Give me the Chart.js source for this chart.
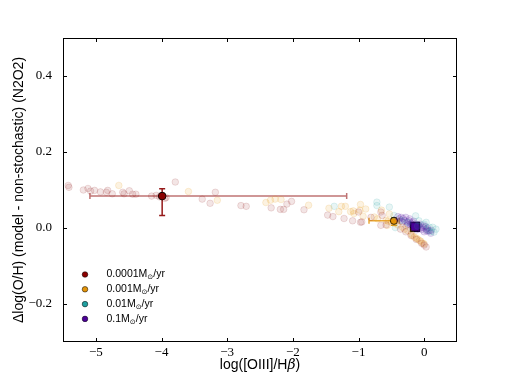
<!DOCTYPE html>
<html>
<head>
<meta charset="utf-8">
<script src="https://cdn.jsdelivr.net/npm/chart.js@4/dist/chart.umd.min.js"></script>
<style>
  html, body { margin: 0; padding: 0; background: #fff; }
</style>
</head>
<body>
<canvas id="chartCanvas" width="507" height="380"></canvas>
<script>
// series labels and colours
const rateLabels = ['0.0001', '0.001', '0.01', '0.1'];
const rateColors = ['139, 0, 0', '227, 148, 9', '32, 160, 160', '77, 0, 153'];

// axis ticks
const xTicks = [-5, -4, -3, -2, -1, 0];
const yTicks = [-0.2, 0.0, 0.2, 0.4];

// individual (faint) model points, one pair of arrays per rate
const redX = [-5.42, -5.41, -5.19, -5.12, -5.08, -5.02, -4.93, -4.84, -4.82, -4.75, -4.59, -4.57, -4.49, -4.44, -4.39,
              -4.15, -4.08, -4.03, -3.95, -3.93, -3.79, -3.38, -3.26, -3.18, -2.79, -2.71, -2.33, -2.19, -2.14, -2.09,
              -2.02, -1.83, -1.47, -1.39, -1.22, -1.09, -0.97, -1.00, -0.95, -0.66, -0.64, -0.81, -0.66, -0.58,
              -0.36, -0.28, -0.20, -0.12, -0.04, 0.00, 0.03];
const redY = [0.112, 0.107, 0.100, 0.104, 0.097, 0.099, 0.095, 0.094, 0.099, 0.090, 0.094, 0.090, 0.098, 0.089, 0.089,
              0.084, 0.086, 0.082, 0.078, 0.080, 0.121, 0.076, 0.065, 0.094, 0.059, 0.057, 0.053, 0.049, 0.049, 0.063,
              0.070, 0.048, 0.034, 0.030, 0.025, 0.019, 0.015, 0.042, 0.016, 0.042, 0.033, 0.028, 0.007, 0.008,
              -0.003, -0.010, -0.020, -0.030, -0.040, -0.045, -0.050];

const orangeX = [-4.65, -3.59, -3.15, -2.41, -2.34, -2.27, -2.18, -1.76, -1.45, -1.26, -1.20, -0.97, -0.89, -0.65,
                 -1.30, -1.12, -1.07, -1.08, -0.93, -0.76, -0.71, -0.58, -0.56, -0.53, -0.98,
                 -0.55, -0.50, -0.45, -0.40, -0.33, -0.30, -0.25, -0.20, -0.18, -0.15, -0.12, -0.10, -0.07, -0.05,
                 -0.02, 0.00];
const orangeY = [0.112, 0.096, 0.073, 0.067, 0.073, 0.076, 0.075, 0.060, 0.052, 0.057, 0.057, 0.062, 0.050, 0.047,
                 0.043, 0.043, 0.038, 0.045, 0.031, 0.029, 0.024, 0.020, 0.007, 0.037, 0.047,
                 0.018, 0.015, 0.012, 0.008, 0.002, -0.003, -0.007, -0.016, -0.020, -0.024, -0.027, -0.029, -0.033, -0.035,
                 -0.040, -0.042];

const tealX = [-1.37, -0.72, -0.72, -0.53, -0.46, -0.44, -0.35, -0.25, -0.13, -0.10, -0.08, 0.00, 0.03, 0.05, 0.08,
               0.10, 0.13, 0.15, 0.18];
const tealY = [0.057, 0.068, 0.059, 0.055, 0.033, 0.001, 0.020, 0.015, 0.032, 0.005, 0.019, 0.010, 0.015, -0.005, 0.002,
               -0.010, 0.002, -0.011, -0.003];

const purpleX = [-0.40, -0.38, -0.37, -0.35, -0.33, -0.32, -0.30, -0.28, -0.27, -0.26, -0.25, -0.23, -0.22, -0.21,
                 -0.20, -0.18, -0.17, -0.16, -0.15, -0.13, -0.12, -0.12, -0.10, -0.09, -0.08, -0.06, -0.05, -0.04,
                 -0.02, -0.01, 0.00, 0.02, 0.03, 0.04, 0.05, 0.06, 0.08, 0.10, 0.11];
const purpleY = [0.030, 0.024, 0.018, 0.028, 0.016, 0.025, 0.020, 0.028, 0.006, 0.016, 0.010, 0.019, 0.024, 0.008,
                 0.012, 0.015, 0.008, 0.018, 0.000, 0.010, 0.006, -0.005, -0.002, 0.008, 0.006, 0.010, 0.000, -0.004,
                 0.002, 0.006, -0.010, 0.004, -0.003, -0.008, 0.000, -0.008, -0.007, -0.014, -0.006];

// mean values with their error bars
const meanX = [-3.99, -0.46, -0.15, -0.14];
const meanY = [0.084, 0.019, 0.004, 0.003];
const xErrLow = [-5.09, -0.84, -0.20, -0.19];
const xErrHigh = [-1.18, -0.38, -0.10, -0.09];
const yErrLow = [0.033, 0.007, 0.000, -0.001];
const yErrHigh = [0.103, 0.027, 0.008, 0.007];

const rgba = (rgb, a) => `rgba(${rgb}, ${a})`;
const toPoints = (xs, ys) => xs.map((x, i) => ({ x: x, y: ys[i] }));
const minus = v => (v < 0 ? '\u2212' : '');

function faintSeries(label, xs, ys, rgb, alpha) {
    return {
        label: label,
        data: toPoints(xs, ys),
        backgroundColor: rgba(rgb, alpha),
        borderColor: rgba(rgb, alpha + 0.06),
        borderWidth: 0.8,
        pointRadius: 3.3,
    };
}

const meansIndex = 4;

// error bars, frame, inward ticks, legend and axis titles
const extrasPlugin = {
    id: 'extras',
    beforeDatasetDraw(chart, args) {
        if (args.index !== meansIndex) return;
        const { ctx, scales: { x, y } } = chart;
        ctx.save();
        meanX.forEach((mx, i) => {
            const px = x.getPixelForValue(mx);
            const py = y.getPixelForValue(meanY[i]);
            const x0 = x.getPixelForValue(xErrLow[i]);
            const x1 = x.getPixelForValue(xErrHigh[i]);
            const y0 = y.getPixelForValue(yErrLow[i]);
            const y1 = y.getPixelForValue(yErrHigh[i]);
            ctx.lineWidth = 1.5;
            ctx.strokeStyle = rgba(rateColors[i], i === 0 ? 0.55 : 0.8);
            ctx.beginPath();
            ctx.moveTo(x0, py); ctx.lineTo(x1, py);
            ctx.moveTo(x0, py - 3); ctx.lineTo(x0, py + 3);
            ctx.moveTo(x1, py - 3); ctx.lineTo(x1, py + 3);
            ctx.stroke();
            ctx.strokeStyle = rgba(rateColors[i], 0.9);
            ctx.beginPath();
            ctx.moveTo(px, y0); ctx.lineTo(px, y1);
            ctx.moveTo(px - 3, y0); ctx.lineTo(px + 3, y0);
            ctx.moveTo(px - 3, y1); ctx.lineTo(px + 3, y1);
            ctx.stroke();
        });
        ctx.restore();
    },
    afterDraw(chart) {
        const { ctx, chartArea: a, scales: { x, y } } = chart;
        ctx.save();
        // frame
        ctx.strokeStyle = '#000';
        ctx.lineWidth = 1;
        ctx.strokeRect(a.left + 0.5, a.top + 0.5, a.right - a.left - 1, a.bottom - a.top - 1);
        // inward ticks on all four sides
        ctx.beginPath();
        xTicks.forEach(v => {
            const px = Math.round(x.getPixelForValue(v)) + 0.5;
            ctx.moveTo(px, a.bottom); ctx.lineTo(px, a.bottom - 4);
            ctx.moveTo(px, a.top); ctx.lineTo(px, a.top + 4);
        });
        yTicks.forEach(v => {
            const py = Math.round(y.getPixelForValue(v)) + 0.5;
            ctx.moveTo(a.left, py); ctx.lineTo(a.left + 4, py);
            ctx.moveTo(a.right, py); ctx.lineTo(a.right - 4, py);
        });
        ctx.stroke();

        // legend
        ctx.textBaseline = 'middle';
        ctx.textAlign = 'left';
        rateLabels.forEach((lab, i) => {
            const ly = 274.5 + i * 14.8;
            ctx.beginPath();
            ctx.arc(85, ly, 2.8, 0, Math.PI * 2);
            ctx.fillStyle = rgba(rateColors[i], 1);
            ctx.fill();
            ctx.lineWidth = 0.5;
            ctx.strokeStyle = '#000';
            ctx.stroke();
            ctx.fillStyle = '#000';
            ctx.font = '10.5px "Liberation Sans"';
            let tx = 106.5;
            const main = lab + 'M';
            ctx.fillText(main, tx, ly);
            tx += ctx.measureText(main).width;
            ctx.font = '7px "DejaVu Sans"';
            ctx.fillText('\u2299', tx, ly + 3);
            tx += ctx.measureText('\u2299').width;
            ctx.font = '10.5px "Liberation Sans"';
            ctx.fillText('/yr', tx, ly);
        });

        // x axis title with italic beta
        ctx.textBaseline = 'middle';
        const t1 = 'log([OIII]/H', t2 = '\u03B2', t3 = ')';
        ctx.font = '14px "Liberation Sans"';
        const w1 = ctx.measureText(t1).width, w3 = ctx.measureText(t3).width;
        ctx.font = 'italic 14px "DejaVu Serif"';
        const w2 = ctx.measureText(t2).width;
        let sx = (a.left + a.right) / 2 - (w1 + w2 + w3) / 2;
        ctx.font = '14px "Liberation Sans"';
        ctx.fillText(t1, sx, 365);
        ctx.font = 'italic 14px "DejaVu Serif"';
        ctx.fillText(t2, sx + w1, 365);
        ctx.font = '14px "Liberation Sans"';
        ctx.fillText(t3, sx + w1 + w2, 365);

        // y axis title
        ctx.translate(19, (a.top + a.bottom) / 2);
        ctx.rotate(-Math.PI / 2);
        ctx.textAlign = 'center';
        ctx.fillText('\u0394log(O/H) (model - non-stochastic) (N2O2)', 0, 0);
        ctx.restore();
    }
};

const ctx = document.getElementById('chartCanvas').getContext('2d');
new Chart(ctx, {
    type: 'scatter',
    data: {
        datasets: [
            faintSeries(rateLabels[0], redX, redY, rateColors[0], 0.1),
            faintSeries(rateLabels[1], orangeX, orangeY, rateColors[1], 0.12),
            faintSeries(rateLabels[2], tealX, tealY, rateColors[2], 0.1),
            faintSeries(rateLabels[3], purpleX, purpleY, rateColors[3], 0.12),
            {
                label: 'mean',
                data: toPoints(meanX, meanY),
                pointBackgroundColor: rateColors.map(c => rgba(c, 1)),
                pointBorderColor: '#000',
                pointBorderWidth: [1, 1, 1, 1.5],
                pointRadius: [3.8, 3.6, 3.4, 6.3],
                pointStyle: ['circle', 'circle', 'circle', 'rect'],
            }
        ]
    },
    options: {
        responsive: false,
        animation: false,
        devicePixelRatio: 1,
        events: [],
        layout: { padding: { left: 0, right: 50, top: 38, bottom: 0 } },
        plugins: {
            legend: { display: false },
            tooltip: { enabled: false },
        },
        scales: {
            x: {
                type: 'linear',
                min: -5.5,
                max: 0.5,
                grid: { display: false, drawTicks: false },
                border: { display: false },
                afterBuildTicks(scale) { scale.ticks = xTicks.map(v => ({ value: v })); },
                afterFit(scale) { scale.height = 38; },
                ticks: {
                    padding: 3,
                    color: '#000',
                    font: { family: '"Liberation Serif"', size: 13 },
                    callback: v => minus(v) + Math.abs(v).toFixed(0),
                },
            },
            y: {
                type: 'linear',
                min: -0.3,
                max: 0.5,
                grid: { display: false, drawTicks: false },
                border: { display: false },
                afterBuildTicks(scale) { scale.ticks = yTicks.map(v => ({ value: v })); },
                afterFit(scale) { scale.width = 63; },
                ticks: {
                    padding: 11,
                    color: '#000',
                    font: { family: '"Liberation Serif"', size: 13 },
                    callback: v => minus(v) + Math.abs(v).toFixed(1),
                },
            }
        }
    },
    plugins: [extrasPlugin]
});
</script>
</body>
</html>
